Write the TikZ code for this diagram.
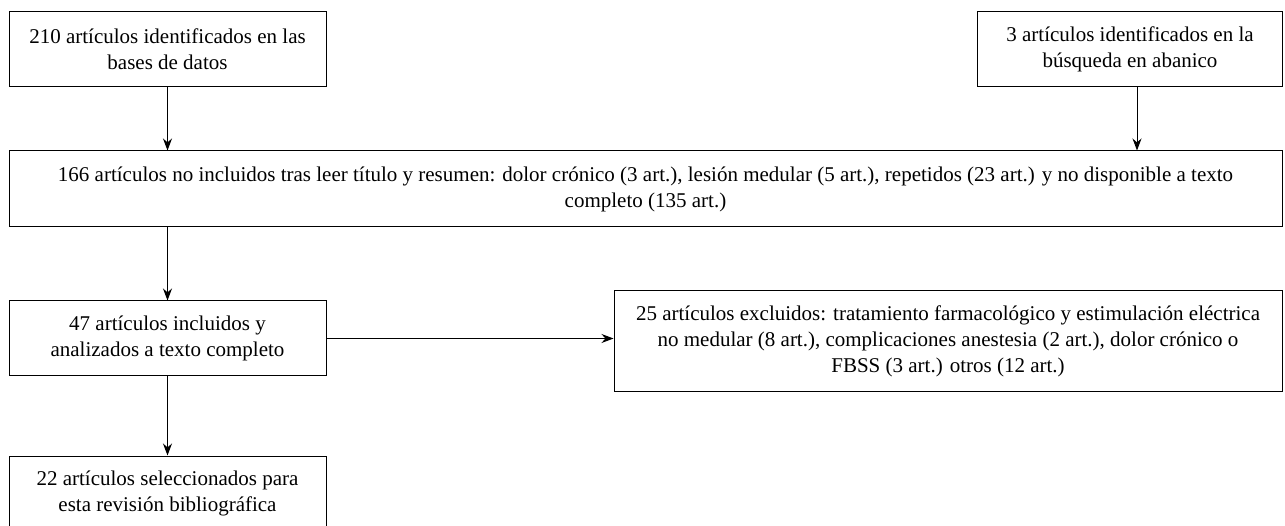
\documentclass[tikz,border=0pt]{standalone}
\usepackage{fontspec}
\setmainfont{Liberation Serif}
\usetikzlibrary{arrows.meta,positioning}

\begin{document}
\begin{tikzpicture}[x=1pt,y=1pt,
  box/.style={draw,line width=1pt,align=center,inner sep=0pt,
    font=\fontsize{21}{26}\selectfont},
  flow/.style={-{Stealth[length=12pt,width=9pt]},line width=1pt}]
\useasboundingbox (0,0) rectangle (1285,-526);

\node[box,minimum width=317,minimum height=75] (ident) at (167.5,-49.5) {210 artículos identificados en las\\bases de datos};
\node[box,minimum width=305,minimum height=75] (abanico) at (1130,-49.5) {3 artículos identificados en la\\búsqueda en abanico};
\node[box,minimum width=1273,minimum height=76] (noincl) at (645.5,-189) {166 artículos no incluidos tras leer título y resumen: dolor crónico (3 art.), lesión medular (5 art.), repetidos (23 art.) y no disponible a texto\\completo (135 art.)};
\node[box,minimum width=317,minimum height=75] (incl) at (167.5,-338.5) {47 artículos incluidos y\\analizados a texto completo};
\node[box,minimum width=668,minimum height=101] (excl) at (948,-341.5) {25 artículos excluidos: tratamiento farmacológico y estimulación eléctrica\\no medular (8 art.), complicaciones anestesia (2 art.), dolor crónico o\\FBSS (3 art.) otros (12 art.)};
\node[box,minimum width=317,minimum height=75] (selec) at (167.5,-493.5) {22 artículos seleccionados para\\esta revisión bibliográfica};

\coordinate (ab) at (1137,-87);
\draw[flow] (ident) -- (ident |- noincl.north);
\draw[flow] (ab) -- (ab |- noincl.north);
\draw[flow] (noincl.south -| incl) -- (incl);
\draw[flow] (incl.east) -- (incl.east -| excl.west);
\draw[flow] (incl) -- (selec);
\end{tikzpicture}
\end{document}
